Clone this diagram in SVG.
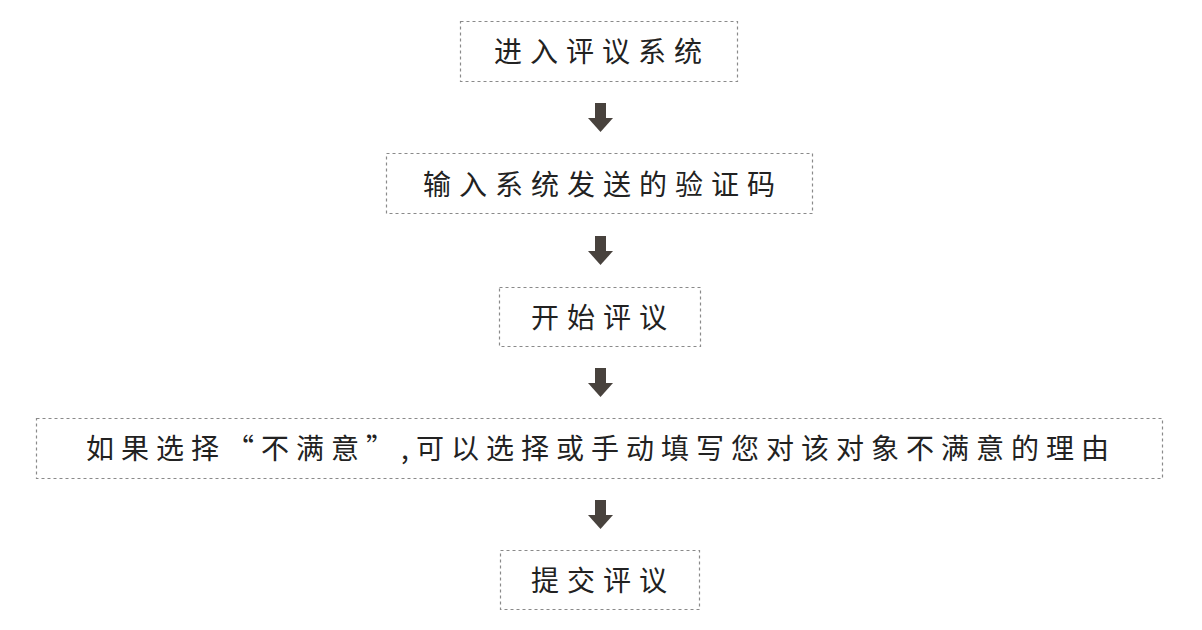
<svg xmlns="http://www.w3.org/2000/svg" width="1202" height="630" viewBox="0 0 1202 630">
<style>
.box{fill:none;stroke:#8a8a8a;stroke-width:1.2;stroke-dasharray:3 3}
.t{font-family:"Noto Sans CJK SC","Noto Sans",sans-serif;font-size:28px;fill:#222;text-anchor:middle;dominant-baseline:central}
.arr{fill:#48423d}
</style>
<defs>
<g id="arrow"><rect x="595" y="0" width="11" height="15"/><polygon points="588,15 613,15 600.5,29"/></g>
</defs>
<rect width="1202" height="630" fill="#fff"/>
<g id="n1"><rect class="box" x="460.5" y="21.5" width="277" height="60"/><text class="t" x="602" y="50" letter-spacing="8">进入评议系统</text></g>
<g id="n2"><rect class="box" x="386.5" y="153.5" width="426" height="60"/><text class="t" x="603" y="183" letter-spacing="8">输入系统发送的验证码</text></g>
<g id="n3"><rect class="box" x="499.5" y="287.5" width="201" height="59"/><text class="t" x="603" y="316" letter-spacing="8">开始评议</text></g>
<g id="n4"><rect class="box" x="36.5" y="418.5" width="1126" height="60"/><text class="t" x="601" y="447" letter-spacing="7">如果选择“不满意”,可以选择或手动填写您对该对象不满意的理由</text></g>
<g id="n5"><rect class="box" x="500.5" y="550.5" width="199" height="59"/><text class="t" x="603" y="579" letter-spacing="8">提交评议</text></g>
<g id="connectors" class="arr">
<use href="#arrow" y="103"/>
<use href="#arrow" y="236"/>
<use href="#arrow" y="368"/>
<use href="#arrow" y="500"/>
</g>
</svg>
